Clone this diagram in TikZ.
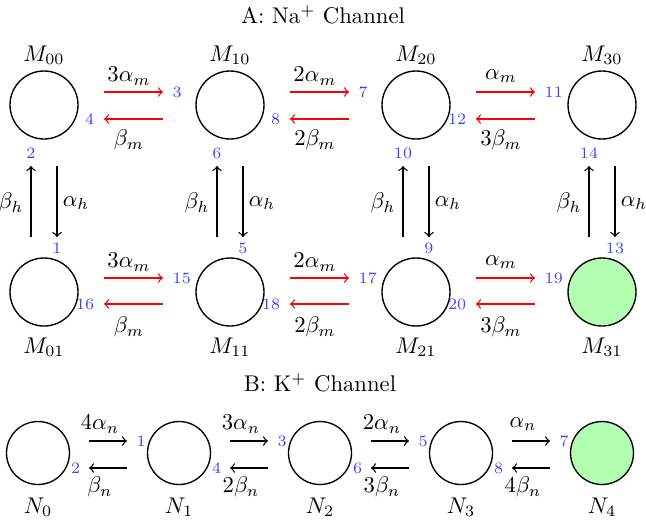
\documentclass[tikz,border=0pt]{standalone}
\usetikzlibrary{calc}
\begin{document}
\begin{tikzpicture}[x=0.4405pt,y=-0.4405pt,
  state/.style={circle,draw,semithick,minimum size=29.95pt,inner sep=0pt},
  kstate/.style={circle,draw,semithick,minimum size=27.75pt,inner sep=0pt},
  final/.style={fill=green!30},
  num/.style={text=blue!75,font=\scriptsize,inner sep=1pt},
  rarrow/.style={->,red,semithick},
  karrow/.style={->,black,semithick},
  varrow/.style={->,black,semithick}]
\useasboundingbox (0,0) rectangle (646,519);

% titles
\node (titleA) at (323,15) {A: Na$^+$ Channel};
\node (titleB) at (320,383) {B: K$^+$ Channel};

% Na states
\node[state] (M00) at (44,105) {};
\node[state] (M10) at (230,105) {};
\node[state] (M20) at (416,105) {};
\node[state] (M30) at (602,105) {};
\node[state] (M01) at (44,292) {};
\node[state] (M11) at (230,292) {};
\node[state] (M21) at (416,292) {};
\node[state,final] (M31) at (602,292) {};
\foreach \c/\x in {0/44,1/230,2/416,3/602}{
  \node (LM\c0) at (\x,55) {$M_{\c0}$};
  \node (LM\c1) at (\x,347) {$M_{\c1}$};
}

% Na horizontal transitions
\foreach \k/\xl/\la/\lb/\na/\nb/\nc/\nd in
  {0/44/3\alpha_m/\beta_m/3/4/15/16,
   1/230/2\alpha_m/2\beta_m/7/8/17/18,
   2/416/\alpha_m/3\beta_m/11/12/19/20}{
  % top row
  \coordinate (ta\k) at (\xl+60,92);
  \coordinate (tb\k) at (\xl+119,92);
  \coordinate (tc\k) at (\xl+119,119);
  \coordinate (td\k) at (\xl+60,119);
  \draw[rarrow] (ta\k) -- (tb\k);
  \draw[rarrow] (tc\k) -- (td\k);
  \node[num,anchor=west] (tn\k a) at (\xl+126,92) {\na};
  \node[num,anchor=east] (tn\k b) at (\xl+53,119) {\nb};
  \node (tl\k a) at (\xl+85,76) {$\la$};
  \node (tl\k b) at (\xl+85,140) {$\lb$};
  % bottom row
  \coordinate (ba\k) at (\xl+60,278);
  \coordinate (bb\k) at (\xl+119,278);
  \coordinate (bc\k) at (\xl+119,304);
  \coordinate (bd\k) at (\xl+60,304);
  \draw[rarrow] (ba\k) -- (bb\k);
  \draw[rarrow] (bc\k) -- (bd\k);
  \node[num,anchor=west] (bn\k a) at (\xl+126,278) {\nc};
  \node[num,anchor=east] (bn\k b) at (\xl+53,304) {\nd};
  \node (bl\k a) at (\xl+85,262) {$\la$};
  \node (bl\k b) at (\xl+85,327) {$\lb$};
}

% Na vertical transitions
\foreach \c/\x/\nu/\nd in {0/44/2/1,1/230/6/5,2/416/10/9,3/602/14/13}{
  \coordinate (vu\c s) at (\x-13,237);
  \coordinate (vu\c e) at (\x-13,166);
  \coordinate (vd\c s) at (\x+13,166);
  \coordinate (vd\c e) at (\x+13,237);
  \draw[varrow] (vu\c s) -- (vu\c e);
  \draw[varrow] (vd\c s) -- (vd\c e);
  \node[num] (vn\c u) at (\x-13,153) {\nu};
  \node[num] (vn\c d) at (\x+13,248) {\nd};
  \node (vl\c u) at (\x-33,203) {$\beta_h$};
  \node (vl\c d) at (\x+32,203) {$\alpha_h$};
}

% K states
\node[kstate] (N0) at (38,453) {};
\node[kstate] (N1) at (179,453) {};
\node[kstate] (N2) at (320,453) {};
\node[kstate] (N3) at (461,453) {};
\node[kstate,final] (N4) at (602,453) {};
\foreach \c/\x in {0/38,1/179,2/320,3/461,4/602}{
  \node (LN\c) at (\x,507) {$N_{\c}$};
}

% K transitions
\foreach \k/\xl/\la/\lb/\na/\nb in
  {0/38/4\alpha_n/\beta_n/1/2,
   1/179/3\alpha_n/2\beta_n/3/4,
   2/320/2\alpha_n/3\beta_n/5/6,
   3/461/\alpha_n/4\beta_n/7/8}{
  \coordinate (ka\k) at (\xl+51,441);
  \coordinate (kb\k) at (\xl+89,441);
  \coordinate (kc\k) at (\xl+89,468);
  \coordinate (kd\k) at (\xl+51,468);
  \draw[karrow] (ka\k) -- (kb\k);
  \draw[karrow] (kc\k) -- (kd\k);
  \node[num,anchor=west] (kn\k a) at (\xl+96,441) {\na};
  \node[num,anchor=east] (kn\k b) at (\xl+45,468) {\nb};
  \node (kl\k a) at (\xl+62,424) {$\la$};
  \node (kl\k b) at (\xl+62,487) {$\lb$};
}
\end{tikzpicture}
\end{document}
